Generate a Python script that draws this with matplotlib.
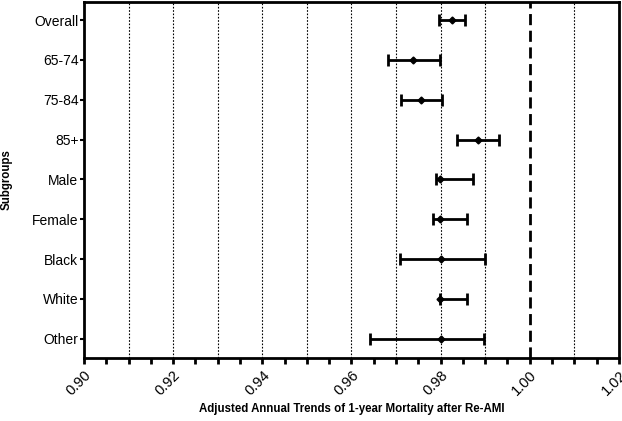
import numpy as np
import matplotlib
matplotlib.use("Agg")
import matplotlib.pyplot as plt
from matplotlib.ticker import MultipleLocator

# -------------------------------------------------------------
# Data
# -------------------------------------------------------------
groups = ["Overall", "65-74", "75-84", "85+", "Male", "Female", "Black", "White", "Other"]
estimate = [0.9825, 0.9739, 0.9757, 0.9883, 0.9798, 0.9799, 0.9800, 0.9799, 0.9800]
ci_low = [0.9796, 0.9682, 0.9712, 0.9837, 0.9789, 0.9783, 0.9708, 0.9798, 0.9641]
ci_high = [0.9854, 0.9798, 0.9804, 0.9931, 0.9872, 0.9860, 0.9899, 0.9860, 0.9897]
xtick_vals = [0.90, 0.92, 0.94, 0.96, 0.98, 1.00, 1.02]

plt.rcParams["font.family"] = ["Liberation Sans", "DejaVu Sans"]

fig = plt.figure(figsize=(6.22, 4.21), dpi=100)
ax = fig.add_axes([0.135, 0.150, 0.860, 0.846])

y = np.arange(len(groups))
est = np.array(estimate)
err = [est - np.array(ci_low), np.array(ci_high) - est]

# reference grid: dotted every 0.01, dashed at 1.00
for gx in np.arange(0.91, 1.015, 0.01):
    if abs(gx - 1.0) < 1e-9:
        ax.axvline(gx, color="black", lw=2.0, ls=(0, (4, 2)), zorder=1)
    else:
        ax.axvline(gx, color="black", lw=0.8, ls=(0, (1.5, 1.5)), zorder=1)

ax.errorbar(est, y, xerr=err, fmt="D", color="black", ms=3.5, lw=2,
            capsize=4, capthick=2, zorder=3)

ax.set_xlim(0.90, 1.02)
ax.set_ylim(8.48, -0.46)
ax.set_yticks(y)
ax.set_yticklabels(groups, fontsize=10)
ax.xaxis.set_minor_locator(MultipleLocator(0.005))
ax.set_xticks(xtick_vals)
ax.set_xticklabels([f"{v:.2f}" for v in xtick_vals],
                   rotation=45, ha="right", rotation_mode="anchor", fontsize=10.5)

ax.tick_params(axis="x", which="both", direction="out", length=4, width=2, pad=3)
ax.tick_params(axis="y", direction="out", length=3, width=1.5, pad=1)
for s in ax.spines.values():
    s.set_linewidth(2)

ax.set_xlabel("Adjusted Annual Trends of 1-year Mortality after Re-AMI",
              fontsize=8.3, fontweight="bold", labelpad=4)
ax.set_ylabel("Subgroups", fontsize=8.3, fontweight="bold", labelpad=14)

fig.savefig("out.png", dpi=100)
